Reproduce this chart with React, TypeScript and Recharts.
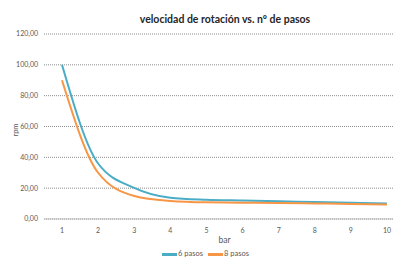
import React from "react"
import { LineChart, Line, XAxis, YAxis, CartesianGrid } from "recharts"

const presion = [1, 2, 3, 4, 5, 6, 7, 8, 9, 10]
const seisPasos = [100, 36, 20.2, 13.8, 12.5, 12, 11.5, 11, 10.5, 10]
const ochoPasos = [90, 30, 14.9, 11.7, 10.8, 10.6, 10.4, 10.1, 9.8, 9.4]
const yTicks = [0, 20, 40, 60, 80, 100, 120]

const series = [
  { key: "seis", name: "6 pasos", color: "#4bacc6" },
  { key: "ocho", name: "8 pasos", color: "#f79646" },
]

const data = presion.map((bar, i) => ({
  bar,
  seis: seisPasos[i],
  ocho: ochoPasos[i],
}))

const font = "Lato, 'Open Sans', sans-serif"
const tickStyle = { fontSize: 7, fill: "#595959", fontFamily: font }

const fmt = (v: number) => v.toFixed(2).replace(".", ",")

export default function App() {
  return (
    <div
      style={{
        position: "relative",
        width: 393,
        height: 260,
        overflow: "hidden",
        background: "#fff",
        fontFamily: font,
      }}
    >
      <style>{"body{margin:0}"}</style>
      <div
        style={{
          position: "absolute",
          top: 13,
          left: 115,
          width: 220,
          textAlign: "center",
          fontSize: 10.5,
          fontWeight: 700,
          color: "#262626",
        }}
      >
        velocidad de rotación vs. nº de pasos
      </div>
      <div style={{ position: "absolute", top: 0, left: 0 }}>
        <LineChart
          width={420}
          height={275}
          data={data}
          margin={{ top: 34, right: 15, left: 0, bottom: 34 }}
        >
          <CartesianGrid
            vertical={false}
            stroke="#8c8c8c"
            strokeDasharray="1 1"
          />
          <XAxis
            dataKey="bar"
            type="category"
            padding={{ left: 18, right: 18 }}
            axisLine={{ stroke: "#bfbfbf" }}
            tickLine={false}
            tick={tickStyle}
            tickSize={0}
            tickMargin={9}
            height={22}
            interval={0}
            label={{
              value: "bar",
              position: "insideBottom",
              offset: -2,
              style: { fontSize: 8.5, fill: "#595959", fontFamily: font },
            }}
          />
          <YAxis
            width={44}
            domain={[0, 120]}
            ticks={yTicks}
            tickFormatter={fmt}
            axisLine={false}
            tickLine={false}
            tickSize={0}
            tickMargin={6}
            tick={tickStyle}
            label={{
              content: () => (
                <text
                  x={18}
                  y={130}
                  transform="rotate(-90 18 130)"
                  textAnchor="middle"
                  fontSize={7.5}
                  fill="#595959"
                  fontFamily={font}
                >
                  rpm
                </text>
              ),
            }}
          />
          {series.map((s) => (
            <Line
              key={s.key}
              dataKey={s.key}
              name={s.name}
              type="monotone"
              stroke={s.color}
              strokeWidth={2}
              dot={false}
              isAnimationActive={false}
            />
          ))}
        </LineChart>
      </div>
      <div
        style={{
          position: "absolute",
          top: 249,
          left: 162,
          display: "flex",
          alignItems: "center",
          fontSize: 7.5,
          lineHeight: "10px",
          color: "#595959",
          whiteSpace: "nowrap",
        }}
      >
        {series.map((s) => (
          <div key={s.key} style={{ display: "flex", alignItems: "center", marginRight: 5 }}>
            <span
              style={{
                display: "inline-block",
                width: 15,
                height: 3,
                background: s.color,
                marginRight: 1,
              }}
            />
            <span>{s.name}</span>
          </div>
        ))}
      </div>
    </div>
  )
}
